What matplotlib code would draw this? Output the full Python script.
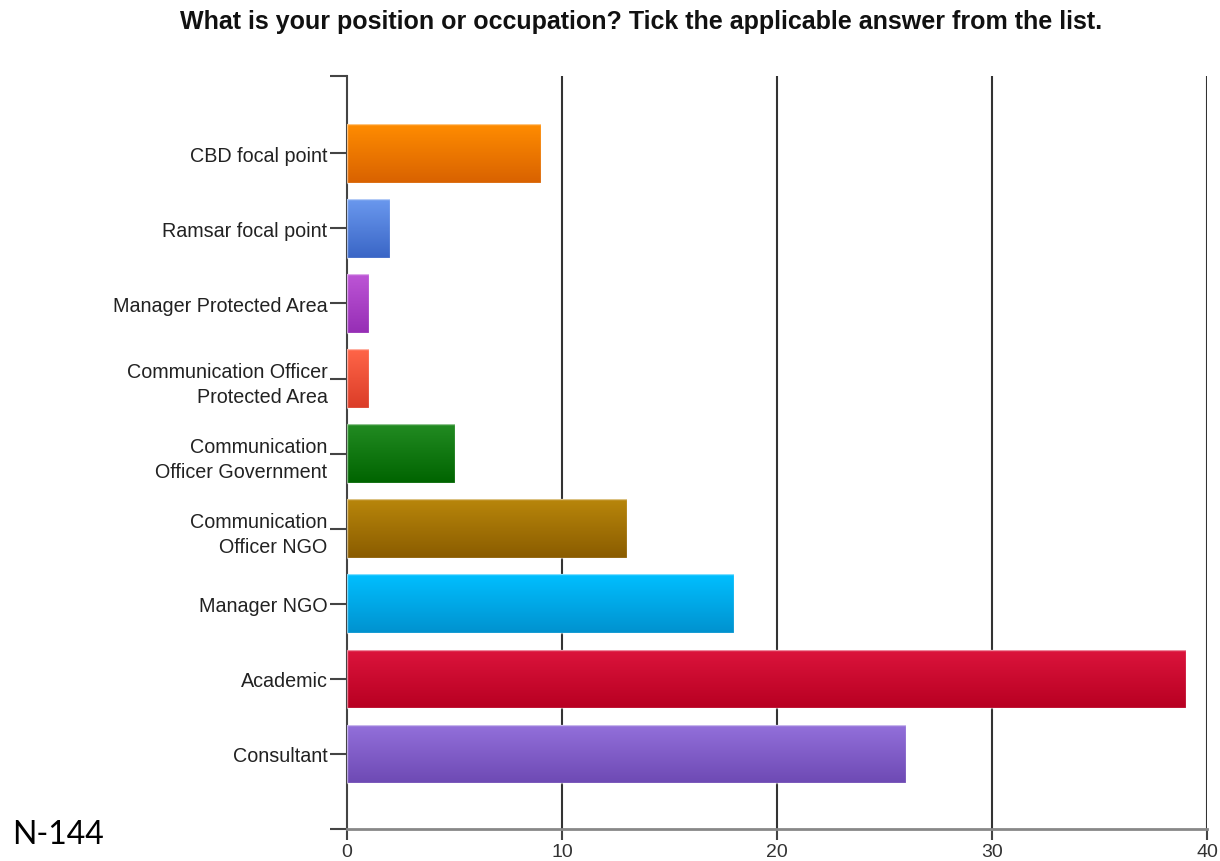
import numpy as np
import matplotlib.pyplot as plt
from matplotlib.colors import LinearSegmentedColormap

categories = ["CBD focal point", "Ramsar focal point", "Manager Protected Area",
              "Communication Officer\nProtected Area", "Communication\nOfficer Government",
              "Communication\nOfficer NGO", "Manager NGO", "Academic", "Consultant"]
counts = [9, 2, 1, 1, 5, 13, 18, 39, 26]
top_colors = ["#ff8c00", "#6a98ee", "#bd55d6", "#ff6548", "#228b22",
              "#b8860b", "#00bfff", "#dc143c", "#9370db"]
bottom_colors = ["#d96200", "#3a66c6", "#962eb5", "#db3d28", "#006400",
                 "#8a5c00", "#0092cf", "#b80022", "#6e4ab4"]
xticks = [0, 10, 20, 30, 40]

plt.rcParams['font.family'] = ['Liberation Sans', 'DejaVu Sans']

fig = plt.figure(figsize=(12.2, 8.62), dpi=100)
ax = fig.add_axes([347 / 1220, 32 / 862, 860 / 1220, 753 / 862])

y = np.arange(len(categories))
bars = ax.barh(y, counts, height=0.78, color="none", edgecolor="none", zorder=3)

# vertical gradient inside every bar, lighter on top
grad = np.linspace(0, 1, 100).reshape(-1, 1)
for bar, c1, c2 in zip(bars, top_colors, bottom_colors):
    cmap = LinearSegmentedColormap.from_list("g", [c1, c2])
    x0, y0 = bar.get_x(), bar.get_y()
    w, h = bar.get_width(), bar.get_height()
    im = ax.imshow(grad, cmap=cmap, aspect="auto", extent=(x0, x0 + w, y0 + h, y0),
                   zorder=3, interpolation="bicubic")
    im.set_clip_path(bar)
    ax.add_patch(plt.Rectangle((x0, y0), w, h, fill=False, edgecolor="#ffffff",
                               alpha=0.5, lw=1, zorder=4))

ax.set_xlim(0, 40)
ax.set_ylim(len(categories) - 0.0, -1.03)
ax.set_xticks(xticks)
ax.set_yticks(y)
ax.set_yticklabels(categories, fontsize=14.2, color="#222222", linespacing=1.4)
ax.set_yticks([-1.03, len(categories)], minor=True)
ax.tick_params(axis="y", which="both", length=12, width=1.5, color="#444444", pad=2)
ax.tick_params(axis="x", length=8, width=1.5, color="#444444", labelsize=14,
               labelcolor="#333333", pad=2)

for xv in xticks[1:]:
    ax.axvline(xv, color="#333333", lw=1.5, zorder=1)

for side in ["top", "right"]:
    ax.spines[side].set_visible(False)
ax.spines["left"].set_color("#444444")
ax.spines["left"].set_linewidth(1.5)
ax.spines["bottom"].set_color("#888888")
ax.spines["bottom"].set_linewidth(2)

fig.text(641 / 1220, 1 - 22 / 862, "What is your position or occupation? Tick the applicable answer from the list.",
         ha="center", va="center", fontsize=18, fontweight="bold", color="#111111")
fig.text(12 / 1220, 1 - 835 / 862, "N-144", ha="left", va="center", fontsize=23,
         family=["Lato", "DejaVu Sans"], color="#000000")

fig.savefig("out.png", dpi=100, facecolor="white")
